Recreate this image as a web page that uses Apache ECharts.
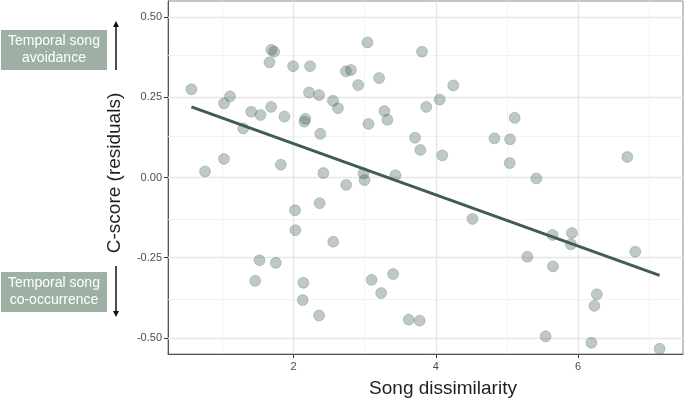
<!DOCTYPE html>
<html>
<head>
<meta charset="utf-8">
<script src="https://cdn.jsdelivr.net/npm/echarts@6/dist/echarts.min.js"></script>
<style>html,body{margin:0;padding:0;background:#fff}#c{width:685px;height:401px}</style>
</head>
<body>
<div id="c"></div>
<script>
// Song dissimilarity (x) and C-score residuals (y)
const songDissimilarity = [0.566,0.757,1.024,1.108,1.024,1.294,1.406,1.537,1.690,1.728,1.663,1.686,1.873,1.822,1.995,2.233,2.218,2.358,2.167,2.153,2.377,2.419,2.555,2.625,2.737,2.807,2.909,3.040,3.203,3.054,3.278,3.320,2.741,2.984,2.998,3.432,3.806,4.245,4.053,3.866,3.708,3.783,4.091,5.108,4.824,5.043,5.038,5.412,6.690,2.368,2.022,2.027,2.559,1.523,1.752,1.462,2.139,2.130,2.359,3.097,3.400,3.232,3.619,3.773,4.515,5.640,5.912,5.898,5.286,5.646,6.803,6.262,6.228,5.542,6.186,7.144];
const cScoreResiduals = [0.275,0.019,0.231,0.253,0.058,0.153,0.205,0.195,0.398,0.392,0.359,0.220,0.190,0.040,0.347,0.347,0.265,0.257,0.183,0.174,0.136,0.014,0.239,0.216,0.331,0.335,0.288,0.421,0.310,0.167,0.207,0.180,-0.023,0.013,-0.008,0.007,0.392,0.287,0.243,0.220,0.124,0.086,0.069,0.186,0.122,0.119,0.045,-0.003,0.064,-0.080,-0.102,-0.164,-0.200,-0.258,-0.266,-0.322,-0.328,-0.382,-0.430,-0.319,-0.301,-0.360,-0.443,-0.446,-0.129,-0.179,-0.173,-0.208,-0.247,-0.277,-0.231,-0.364,-0.400,-0.495,-0.515,-0.534];
// Fitted line endpoints
const fitX = [0.566, 7.144];
const fitY = [0.220, -0.305];
// Axis ticks
const xTicks = [2, 4, 6];
const xMinorGrid = [1, 3, 5, 7];
const yTicks = [-0.5, -0.25, 0, 0.25, 0.5];
const yMinorGrid = [-0.375, -0.125, 0.125, 0.375];
const xTitle = 'Song dissimilarity';
const yTitle = 'C-score (residuals)';
const topNote = 'Temporal song\navoidance';
const bottomNote = 'Temporal song\nco-occurrence';

const points = songDissimilarity.map((x, i) => [x, cScoreResiduals[i]]);
const fitLine = fitX.map((x, i) => [x, fitY[i]]);

const gridMarks = [];
xMinorGrid.forEach(v => gridMarks.push({xAxis: v, lineStyle: {color: '#f0f0f0', width: 0.8, type: 'solid'}}));
yMinorGrid.forEach(v => gridMarks.push({yAxis: v, lineStyle: {color: '#f0f0f0', width: 0.8, type: 'solid'}}));
xTicks.forEach(v => gridMarks.push({xAxis: v, lineStyle: {color: '#e6e6e6', width: 1.4, type: 'solid'}}));
yTicks.forEach(v => gridMarks.push({yAxis: v, lineStyle: {color: '#e6e6e6', width: 1.4, type: 'solid'}}));

const font = '"Liberation Sans", Arial, sans-serif';
const chart = echarts.init(document.getElementById('c'), null, {renderer: 'canvas'});
chart.setOption({
  animation: false,
  backgroundColor: '#fff',
  grid: {left: 168, right: 2, top: 1, bottom: 47, show: true, borderColor: '#8a8a8a', borderWidth: 1, backgroundColor: 'transparent'},
  xAxis: {
    type: 'value', min: 0.237, max: 7.473,
    splitLine: {show: false},
    axisLine: {show: true, onZero: false, lineStyle: {color: '#555', width: 1}},
    axisTick: {show: true, length: 4, customValues: xTicks, lineStyle: {color: '#333'}},
    axisLabel: {customValues: xTicks, color: '#4d4d4d', fontSize: 11, fontFamily: font, margin: 7}
  },
  yAxis: {
    type: 'value', min: -0.55, max: 0.55,
    splitLine: {show: false},
    axisLine: {show: true, onZero: false, lineStyle: {color: '#555', width: 1}},
    axisTick: {show: true, length: 4, customValues: yTicks, lineStyle: {color: '#333'}},
    axisLabel: {customValues: yTicks, color: '#4d4d4d', fontSize: 11, fontFamily: font, margin: 6,
      formatter: v => v.toFixed(2)}
  },
  series: [
    {type: 'scatter', data: [], z: 1, silent: true,
      markLine: {silent: true, symbol: 'none', label: {show: false}, emphasis: {disabled: true}, data: gridMarks}},
    {type: 'scatter', data: points, symbolSize: 11, zlevel: 1, z: 3,
      itemStyle: {color: 'rgba(63,95,79,0.42)', borderColor: 'rgba(63,95,79,0.3)', borderWidth: 1}},
    {type: 'line', data: fitLine, showSymbol: false, zlevel: 1, z: 4,
      lineStyle: {color: '#3e5e4e', width: 3}}
  ],
  graphic: [
    {type: 'text', x: 443, y: 389, style: {text: xTitle, font: '19px ' + font, fill: '#1f1f1f', align: 'center', verticalAlign: 'middle'}},
    {type: 'text', x: 115, y: 173, rotation: Math.PI / 2, style: {text: yTitle, font: '19px ' + font, fill: '#1f1f1f', align: 'center', verticalAlign: 'middle'}},
    {type: 'rect', shape: {x: 1, y: 30, width: 106, height: 40}, style: {fill: '#9eb0a4'}},
    {type: 'text', x: 54, y: 50, style: {text: topNote, font: '14px ' + font, fill: '#fff', align: 'center', verticalAlign: 'middle', lineHeight: 17}},
    {type: 'rect', shape: {x: 1, y: 272, width: 106, height: 40}, style: {fill: '#9eb0a4'}},
    {type: 'text', x: 54, y: 292, style: {text: bottomNote, font: '14px ' + font, fill: '#fff', align: 'center', verticalAlign: 'middle', lineHeight: 17}},
    {type: 'line', shape: {x1: 116, y1: 70, x2: 116, y2: 26}, style: {stroke: '#111', lineWidth: 1.5}},
    {type: 'polygon', shape: {points: [[116, 21], [113, 27], [119, 27]]}, style: {fill: '#111'}},
    {type: 'line', shape: {x1: 116, y1: 266, x2: 116, y2: 312}, style: {stroke: '#111', lineWidth: 1.5}},
    {type: 'polygon', shape: {points: [[116, 317], [113, 311], [119, 311]]}, style: {fill: '#111'}}
  ]
});
</script>
</body>
</html>
